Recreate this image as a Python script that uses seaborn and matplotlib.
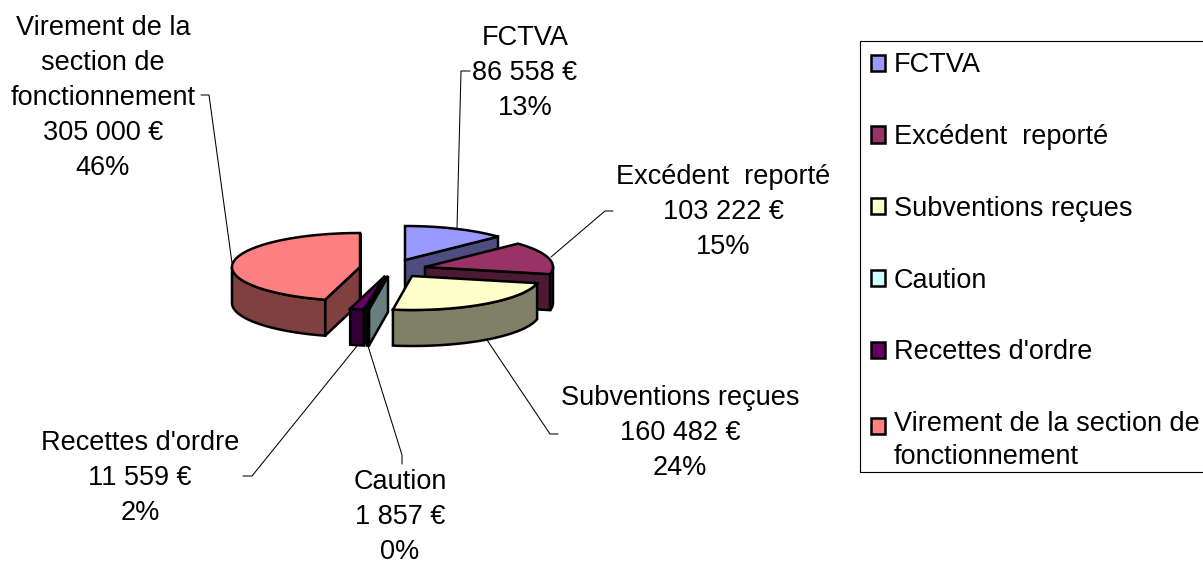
import numpy as np
import matplotlib
matplotlib.use('Agg')
import matplotlib.pyplot as plt
from matplotlib.patches import Patch, Rectangle
import seaborn as sns

# data
categories = ['FCTVA', 'Excédent  reporté', 'Subventions reçues', 'Caution', "Recettes d'ordre",
              'Virement de la section de fonctionnement']
amounts = [86558, 103222, 160482, 1857, 11559, 305000]
slice_colors = ['#9999FF', '#993366', '#FFFFCC', '#CCFFFF', '#660066', '#FF8080']

# label names as wrapped on the chart
label_names = ['FCTVA', 'Excédent  reporté', 'Subventions reçues', 'Caution', "Recettes d'ordre",
               'Virement de la\nsection de\nfonctionnement']
legend_names = ['FCTVA', 'Excédent  reporté', 'Subventions reçues', 'Caution', "Recettes d'ordre",
                'Virement de la section de\nfonctionnement']

# layout in pixels: apex of each exploded slice, label centre, leader line
apex = [(405, 260), (425, 267), (412, 276), (388, 276), (385, 276), (360, 267)]
label_pos = [(525, 73), (723, 212), (680, 433), (400, 517), (140, 478), (103, 98)]
leaders = [
    [(470, 71), (461, 71), (457, 228)],
    [(613, 211), (605, 211), (551, 257)],
    [(558, 434), (550, 434), (487, 340)],
    [(402, 464), (402, 455), (368, 346)],
    [(243, 476), (252, 476), (357, 346)],
    [(201, 95), (209, 95), (232, 263)],
]
rx, ry, depth = 128, 34, 36

sns.set_theme(style='white')
plt.rcParams['font.family'] = ['Liberation Sans', 'DejaVu Sans']
plt.rcParams['text.color'] = 'black'

W, H = 1203, 564
fig = plt.figure(figsize=(W / 100, H / 100), dpi=100)
ax = fig.add_axes([0, 0, 1, 1])
ax.set_xlim(0, W)
ax.set_ylim(H, 0)
ax.axis('off')

palette = sns.color_palette(slice_colors)
shares = np.array(amounts) / sum(amounts)
edges = np.concatenate([[0], np.cumsum(shares)]) * 2 * np.pi
LW = 1.8


def rim(i, theta):
    return apex[i][0] + rx * np.sin(theta), apex[i][1] - ry * np.cos(theta)


def poly(xs, ys, color, z):
    ax.fill(xs, ys, facecolor=color, edgecolor='black', linewidth=LW, joinstyle='miter', zorder=z)


def draw_slice(i, z):
    start, end = edges[i], edges[i + 1]
    top = palette[i]
    side = tuple(c * 0.5 for c in top)
    ax0, ay0 = apex[i]
    # cut faces, only those turned to the viewer
    for theta, visible in ((start, np.sin(start) < 1e-6), (end, np.sin(end) > -1e-6)):
        if visible:
            x, y = rim(i, theta)
            poly([ax0, x, x, ax0], [ay0, y, y + depth, ay0 + depth], side, z)
    # outer wall on the front half of the ellipse
    lo, hi = max(start, np.pi / 2), min(end, 3 * np.pi / 2)
    if hi > lo:
        t = np.linspace(lo, hi, 60)
        x, y = rim(i, t)
        poly(np.r_[x, x[::-1]], np.r_[y, y[::-1] + depth], side, z)
    # top face
    t = np.linspace(start, end, 120)
    x, y = rim(i, t)
    poly(np.r_[ax0, x], np.r_[ay0, y], top, z)


# back to front
for z, i in enumerate([0, 1, 5, 4, 3, 2]):
    draw_slice(i, z + 2)

for pts in leaders:
    ax.plot([p[0] for p in pts], [p[1] for p in pts], color='black', lw=0.75, zorder=1,
            solid_joinstyle='miter')

FS = 19.5
for i, name in enumerate(label_names):
    value = f'{amounts[i]:,}'.replace(',', ' ')
    txt = f'{name}\n{value} €\n{shares[i] * 100:.0f}%'
    ax.text(label_pos[i][0], label_pos[i][1], txt, ha='center', va='center', fontsize=FS,
            linespacing=1.46, color='black', zorder=10)

handles = [Patch(facecolor=c, edgecolor='black', linewidth=LW) for c in palette]
leg = ax.legend(handles, legend_names, loc='upper left', bbox_to_anchor=(860, 41.5),
                bbox_transform=ax.transData, borderaxespad=0, fontsize=FS, frameon=False,
                handlelength=0.54, handleheight=0.54, handletextpad=0.31, labelspacing=1.69,
                borderpad=0.4)
# frame on its own, the wrapped entry leaves too much room below it otherwise
ax.add_patch(Rectangle((860, 41), 350, 431, facecolor='white', edgecolor='black', lw=0.8, zorder=1))
# long entry: marker sits on the first line of the wrapped text
leg.get_texts()[-1].set_linespacing(1.33)
last = leg.get_patches()[-1]
last.set_y(last.get_y() + 11)

fig.savefig('out.png', dpi=100)
